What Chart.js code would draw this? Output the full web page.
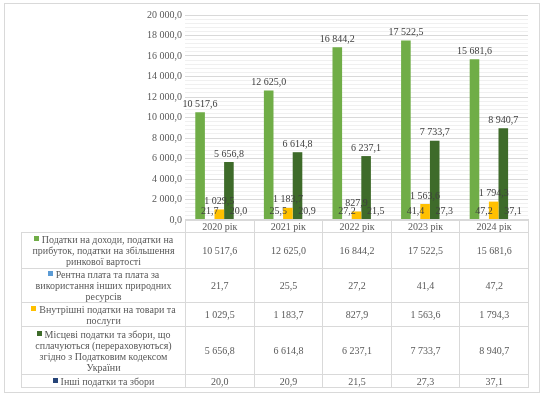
<!DOCTYPE html>
<html>
<head>
<meta charset="utf-8">
<script src="https://cdn.jsdelivr.net/npm/chart.js@4"></script>
<style>
  body { margin: 0; background: #fff; font-family: "Liberation Serif", serif; }
  #frame { position: absolute; left: 4px; top: 3px; width: 534px; height: 388px; border: 1px solid #d9d9d9; }
  #wrap { position: absolute; left: 0; top: 0; width: 546px; height: 229px; }
  table { position: absolute; left: 21px; top: 219px; border-collapse: collapse; table-layout: fixed; }
  td { border: 1px solid #d9d9d9; color: #595959; font-size: 10px; line-height: 11px; text-align: center; padding: 0 2px; vertical-align: middle; }
  td.blank { border: none; border-right: 1px solid #d9d9d9; }
  .mk { display: inline-block; width: 5px; height: 5px; margin-right: 3px; vertical-align: 2px; }
</style>
</head>
<body>
<div id="frame"></div>
<div id="wrap"><canvas id="taxChart"></canvas></div>
<table id="tbl"></table>
<script>
const years = ["2020 рік", "2021 рік", "2022 рік", "2023 рік", "2024 рік"];
const seriesNames = [
  "Податки на доходи, податки на прибуток, податки на збільшення ринкової вартості",
  "Рентна плата та плата за використання інших  природних ресурсів",
  "Внутрішні  податки на товари та послуги",
  "Місцеві податки та збори, що сплачуються (перераховуються) згідно з Податковим кодексом України",
  "Інші податки та збори"
];
const incomeTax = [10517.6, 12625.0, 16844.2, 17522.5, 15681.6];
const rentPay = [21.7, 25.5, 27.2, 41.4, 47.2];
const domesticTax = [1029.5, 1183.7, 827.9, 1563.6, 1794.3];
const localTax = [5656.8, 6614.8, 6237.1, 7733.7, 8940.7];
const otherTax = [20.0, 20.9, 21.5, 27.3, 37.1];

const colors = ["#70ad47", "#5b9bd5", "#ffc000", "#3e6b2a", "#264478"];
const allSeries = [incomeTax, rentPay, domesticTax, localTax, otherTax];

// 10517.6 -> "10 517,6"
function fmt(v) {
  const parts = v.toFixed(1).split(".");
  return parts[0].replace(/\B(?=(\d{3})+(?!\d))/g, " ") + "," + parts[1];
}

const valueLabels = {
  id: "valueLabels",
  afterDatasetsDraw(chart) {
    const ctx = chart.ctx;
    ctx.save();
    ctx.font = "10px 'Liberation Serif'";
    ctx.fillStyle = "#404040";
    ctx.textAlign = "center";
    ctx.textBaseline = "bottom";
    chart.data.datasets.forEach((ds, i) => {
      chart.getDatasetMeta(i).data.forEach((bar, j) => {
        ctx.fillText(fmt(ds.data[j]), bar.x, bar.y - 3);
      });
    });
    ctx.restore();
  }
};

new Chart(document.getElementById("taxChart"), {
  type: "bar",
  data: {
    labels: years,
    datasets: allSeries.map((d, i) => ({
      label: seriesNames[i],
      data: d,
      backgroundColor: colors[i],
      categoryPercentage: 0.7,
      barPercentage: 1.0
    }))
  },
  options: {
    responsive: true,
    maintainAspectRatio: false,
    animation: false,
    layout: { padding: { top: 15, right: 18, bottom: 0, left: 0 } },
    plugins: { legend: { display: false }, tooltip: { enabled: false } },
    scales: {
      x: { display: false },
      y: {
        min: 0,
        max: 20000,
        ticks: {
          stepSize: 400,
          autoSkip: false,
          padding: 3,
          color: "#595959",
          font: { family: "Liberation Serif", size: 10 },
          callback: v => (v % 2000 === 0 ? fmt(v) : "")
        },
        grid: {
          color: ctx => (ctx.tick && ctx.tick.value % 2000 === 0 ? "#d9d9d9" : "#f0f0f0"),
          drawTicks: false
        },
        border: { display: false },
        afterFit: scale => { scale.width = 185; }
      }
    }
  },
  plugins: [valueLabels]
});

// data table under the plot
const tbl = document.getElementById("tbl");
const colW = [164, 68.6, 68.6, 68.6, 68.6, 68.6];
const rowH = [13, 36, 34, 24, 48, 13];
let cg = "<colgroup>" + colW.map(w => `<col style="width:${w}px">`).join("") + "</colgroup>";
let html = cg + `<tr style="height:${rowH[0]}px"><td class="blank"></td>` + years.map(y => `<td>${y}</td>`).join("") + "</tr>";
seriesNames.forEach((name, i) => {
  html += `<tr style="height:${rowH[i + 1]}px"><td><span class="mk" style="background:${colors[i]}"></span>${name}</td>` +
    allSeries[i].map(v => `<td>${fmt(v)}</td>`).join("") + "</tr>";
});
tbl.innerHTML = html;
</script>
</body>
</html>
